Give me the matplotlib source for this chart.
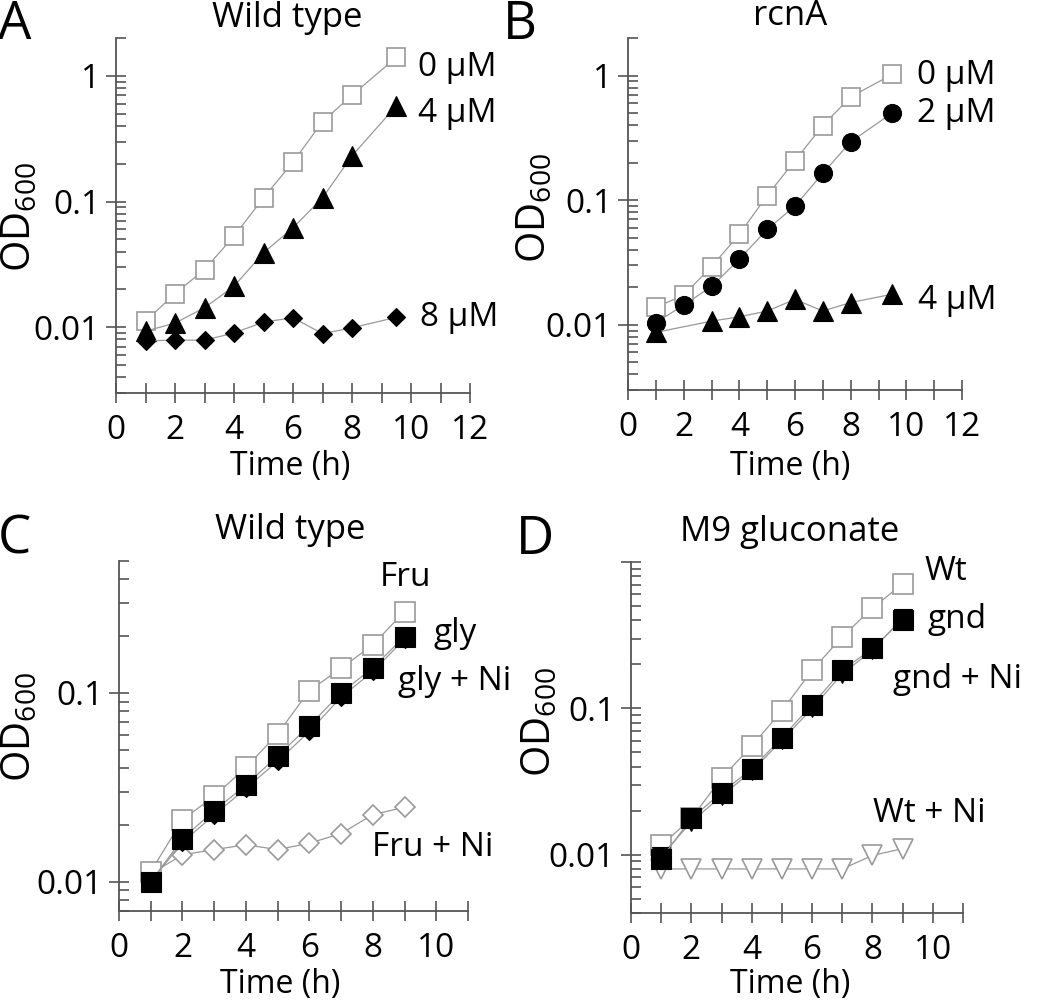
import matplotlib
matplotlib.use('Agg')
import matplotlib.pyplot as plt
from matplotlib.ticker import LogLocator, MultipleLocator, FixedLocator, FixedFormatter, NullFormatter

plt.rcParams['font.family'] = ['Open Sans', 'DejaVu Sans']
plt.rcParams['mathtext.fontset'] = 'custom'
plt.rcParams['mathtext.rm'] = 'Open Sans'

# ---------------- data ----------------
# Panel A: Wild type
a_time = [1, 2, 3, 4, 5, 6, 7, 8, 9.5]
a_0uM = [0.0112, 0.0185, 0.0288, 0.0531, 0.107, 0.206, 0.432, 0.702, 1.40]
a_4uM = [0.0093, 0.0108, 0.0143, 0.0212, 0.0391, 0.0618, 0.107, 0.231, 0.577]
a_8uM = [0.0078, 0.0079, 0.0079, 0.0090, 0.0110, 0.0119, 0.0089, 0.0099, 0.0120]

# Panel B: rcnA
b_time = [1, 2, 3, 4, 5, 6, 7, 8, 9.5]
b_0uM = [0.0138, 0.0173, 0.0293, 0.0532, 0.109, 0.208, 0.397, 0.675, 1.02]
b_2uM = [0.0104, 0.0144, 0.0203, 0.0336, 0.0583, 0.0898, 0.164, 0.294, 0.502]
b_time_4uM = [1, 3, 4, 5, 6, 7, 8, 9.5]
b_4uM = [0.0087, 0.0107, 0.0116, 0.0129, 0.0160, 0.0129, 0.0151, 0.0176]

# Panel C: Wild type, carbon sources
c_time = [1, 2, 3, 4, 5, 6, 7, 8, 9]
c_fru = [0.0113, 0.0213, 0.0284, 0.0403, 0.0607, 0.103, 0.135, 0.180, 0.270]
c_gly = [0.0100, 0.0169, 0.0238, 0.0325, 0.0464, 0.0671, 0.100, 0.136, 0.199]
c_gly_ni = [0.0100, 0.0162, 0.0226, 0.0312, 0.0435, 0.0625, 0.095, 0.130, 0.193]
c_fru_ni = [0.0110, 0.0139, 0.0148, 0.0157, 0.0148, 0.0160, 0.0180, 0.0227, 0.0248]

# Panel D: M9 gluconate
d_time = [1, 2, 3, 4, 5, 6, 7, 8, 9]
d_wt = [0.0116, 0.0177, 0.0334, 0.0553, 0.0964, 0.182, 0.309, 0.484, 0.710]
d_gnd = [0.0094, 0.0177, 0.0266, 0.0386, 0.0631, 0.106, 0.182, 0.257, 0.403]
d_gnd_ni = [0.0098, 0.0168, 0.0252, 0.0372, 0.0605, 0.100, 0.172, 0.250, 0.415]
d_wt_ni = [0.0080, 0.0080, 0.0080, 0.0080, 0.0080, 0.0080, 0.0080, 0.0099, 0.0110]

# ---------------- figure ----------------
W, H = 1050, 1001
fig = plt.figure(figsize=(W / 100, H / 100), dpi=100)


def fx(px):
    return px / W


def fy(py):
    return 1 - py / H


def make_axes(l, t, r, b):
    return fig.add_axes([fx(l), fy(b), fx(r) - fx(l), fy(t) - fy(b)])


AX_COL = '#555555'
LINE_COL = '#999999'
OPEN_COL = '#9a9a9a'
TICK_FS = 24


def style(ax, xlim, ylim, xmax_label, ylabels):
    ax.set_yscale('log')
    ax.set_xlim(*xlim)
    ax.set_ylim(*ylim)
    for s in ['top', 'right']:
        ax.spines[s].set_visible(False)
    for s in ['left', 'bottom']:
        ax.spines[s].set_color(AX_COL)
        ax.spines[s].set_linewidth(1.3)
    ax.xaxis.set_major_locator(FixedLocator(list(range(0, xmax_label + 1, 2))))
    ax.xaxis.set_minor_locator(MultipleLocator(1))
    ax.tick_params(axis='x', which='both', direction='inout', length=14, width=1.2,
                   colors=AX_COL, labelcolor='black', labelsize=TICK_FS, pad=8)
    ax.yaxis.set_major_locator(FixedLocator([0.01, 0.1, 1]))
    ax.yaxis.set_major_formatter(FixedFormatter(ylabels))
    ax.yaxis.set_minor_locator(LogLocator(base=10, subs=range(2, 10)))
    ax.yaxis.set_minor_formatter(NullFormatter())
    ax.tick_params(axis='y', which='major', direction='inout', length=15, width=1.2,
                   colors=AX_COL, labelcolor='black', labelsize=TICK_FS, pad=4)
    ax.tick_params(axis='y', which='minor', direction='in', length=7.5, width=1.2,
                   colors=AX_COL)
    ax.set_facecolor('none')


def open_series(ax, x, y, marker, ms, z):
    ax.plot(x, y, color=LINE_COL, lw=0.9, marker=marker, ms=ms, mfc='white',
            mec=OPEN_COL, mew=1.2, zorder=z, clip_on=False)


def filled_series(ax, x, y, marker, ms, z):
    ax.plot(x, y, color=LINE_COL, lw=0.9, marker=marker, ms=ms, mfc='black',
            mec='black', mew=0.8, zorder=z, clip_on=False)


def ftext(px, py, s, size, ha='left', va='center', **kw):
    fig.text(fx(px), fy(py), s, fontsize=size, ha=ha, va=va, **kw)


# Panel A
axA = make_axes(116, 38, 470, 393)
style(axA, (0, 12), (0.003, 2), 12, ['0.01', '0.1', '1'])
open_series(axA, a_time, a_0uM, 's', 13, 3)
filled_series(axA, a_time, a_4uM, '^', 14, 4)
filled_series(axA, a_time, a_8uM, 'D', 9.5, 5)

# Panel B
axB = make_axes(628, 38, 962, 390)
style(axB, (0, 12), (0.003, 2), 12, ['0.01', '0.1', '1'])
open_series(axB, b_time, b_0uM, 's', 13, 3)
filled_series(axB, b_time, b_2uM, 'o', 13, 4)
filled_series(axB, b_time_4uM, b_4uM, '^', 14, 5)

# Panel C
axC = make_axes(119, 561, 468, 911)
style(axC, (0, 11), (0.007, 0.5), 10, ['0.01', '0.1', ''])
open_series(axC, c_time, c_fru_ni, 'D', 10, 2)
open_series(axC, c_time, c_fru, 's', 14, 3)
filled_series(axC, c_time, c_gly_ni, 'D', 9, 4)
filled_series(axC, c_time, c_gly, 's', 14, 5)

# Panel D
axD = make_axes(631, 562, 963, 913)
style(axD, (0, 11), (0.004, 1.0), 10, ['0.01', '0.1', ''])
open_series(axD, d_time, d_wt_ni, 'v', 14, 2)
open_series(axD, d_time, d_wt, 's', 14, 3)
filled_series(axD, d_time, d_gnd_ni, 'v', 13, 4)
filled_series(axD, d_time, d_gnd, 's', 14, 5)

# Panel letters
LET_FS = 38
ftext(-2, 25, 'A', LET_FS)
ftext(503, 25, 'B', LET_FS)
ftext(-2, 540, 'C', LET_FS)
ftext(516, 540, 'D', LET_FS)

# Titles
TIT_FS = 25
ftext(287, 18, 'Wild type', TIT_FS, ha='center')
ftext(790, 16, 'rcnA', TIT_FS, ha='center')
ftext(290, 530, 'Wild type', TIT_FS, ha='center')
ftext(790, 532, 'M9 gluconate', TIT_FS, ha='center')

# Axis labels
YL_FS = 29
ylab = r'OD$_{\mathregular{600}}$'
ftext(20, 217, ylab, YL_FS, ha='center', rotation=90)
ftext(535, 208, ylab, YL_FS, ha='center', rotation=90)
ftext(20, 727, ylab, YL_FS, ha='center', rotation=90)
ftext(540, 722, ylab, YL_FS, ha='center', rotation=90)

XL_FS = 23
ftext(290, 466, 'Time (h)', XL_FS, ha='center')
ftext(790, 466, 'Time (h)', XL_FS, ha='center')
ftext(280, 985, 'Time (h)', XL_FS, ha='center')
ftext(790, 985, 'Time (h)', XL_FS, ha='center')

# Series labels
SL_FS = 24
ftext(418, 67, '0 µM', SL_FS)
ftext(418, 113, '4 µM', SL_FS)
ftext(420, 317, '8 µM', SL_FS)

ftext(917, 76, '0 µM', SL_FS)
ftext(917, 113, '2 µM', SL_FS)
ftext(918, 300, '4 µM', SL_FS)

ftext(380, 578, 'Fru', SL_FS)
ftext(433, 633, 'gly', SL_FS)
ftext(398, 682, 'gly + Ni', SL_FS)
ftext(372, 848, 'Fru + Ni', SL_FS)

ftext(925, 572, 'Wt', SL_FS)
ftext(928, 620, 'gnd', SL_FS)
ftext(893, 680, 'gnd + Ni', SL_FS)
ftext(873, 813, 'Wt + Ni', SL_FS)

fig.savefig('out.png', dpi=100)
